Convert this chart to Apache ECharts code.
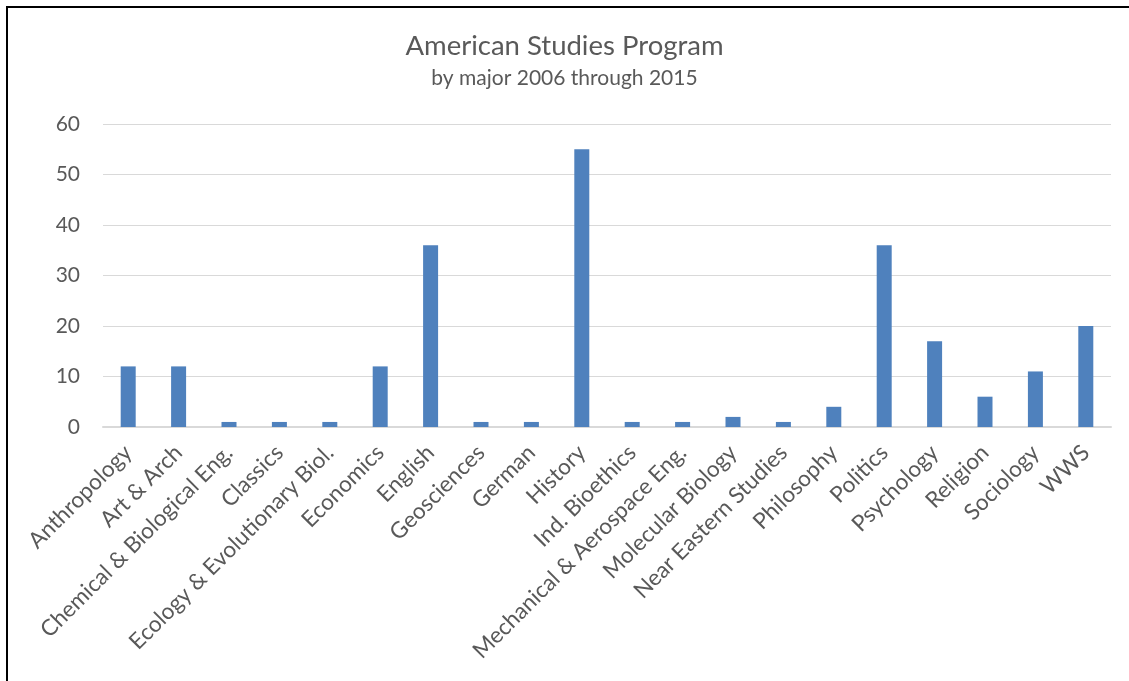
<!DOCTYPE html>
<html>
<head>
<meta charset="utf-8">
<script src="https://cdn.jsdelivr.net/npm/echarts@6/dist/echarts.min.js"></script>
<style>
html,body{margin:0;padding:0;background:#fff;}
#chart{width:1129px;height:681px;}
#frame{position:absolute;left:6px;top:6px;right:-10px;bottom:-10px;border-left:2px solid #000;border-top:2px solid #000;pointer-events:none;}
</style>
</head>
<body>
<div id="chart"></div>
<div id="frame"></div>
<script>
const categories = ["Anthropology","Art & Arch","Chemical & Biological Eng.","Classics","Ecology & Evolutionary Biol.","Economics","English","Geosciences","German","History","Ind. Bioethics","Mechanical & Aerospace Eng.","Molecular Biology","Near Eastern Studies","Philosophy","Politics","Psychology","Religion","Sociology","WWS"];
const values = [12,12,1,1,1,12,36,1,1,55,1,1,2,1,4,36,17,6,11,20];
const yTicks = [0,10,20,30,40,50,60];

const FONT = 'Lato, "Open Sans", sans-serif';
const chart = echarts.init(document.getElementById('chart'));
chart.setOption({
  animation: false,
  backgroundColor: '#fff',
  title: {
    text: 'American Studies Program',
    subtext: 'by major 2006 through 2015',
    left: 'center',
    top: 27,
    itemGap: 8,
    textStyle: {fontFamily: FONT, fontSize: 27.5, fontWeight: 'normal', color: '#595959'},
    subtextStyle: {fontFamily: FONT, fontSize: 21, color: '#595959'}
  },
  grid: {left: 103, right: 18, top: 124, bottom: 254, containLabel: false},
  xAxis: {
    type: 'category',
    data: categories,
    axisLine: {show: true, lineStyle: {color: '#d9d9d9', width: 2}},
    axisTick: {show: false},
    axisLabel: {rotate: 45, interval: 0, margin: 22, fontFamily: FONT, fontSize: 22.5, color: '#595959'}
  },
  yAxis: {
    type: 'value',
    min: yTicks[0],
    max: yTicks[yTicks.length - 1],
    interval: 10,
    axisLine: {show: false},
    axisTick: {show: false},
    splitLine: {lineStyle: {color: '#d9d9d9', width: 1}},
    axisLabel: {margin: 23, fontFamily: FONT, fontSize: 21, color: '#595959'}
  },
  series: [{
    type: 'bar',
    data: values,
    barWidth: 15,
    itemStyle: {color: '#4f81bd'}
  }]
});
</script>
</body>
</html>
